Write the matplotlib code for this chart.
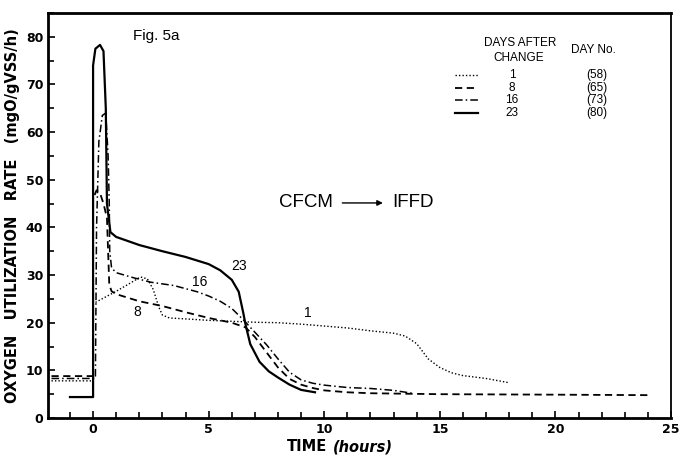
import matplotlib.pyplot as plt
from matplotlib.lines import Line2D
from matplotlib.ticker import MultipleLocator

# day 1 after change (dotted)
t1 = [-1.8, 0.0, 0.0, 0.5, 1.0, 1.5, 2.05, 2.35, 2.6, 2.85, 3.0, 3.3, 4.0, 5.0, 6.0,
      7.0, 8.0, 9.0, 10.0, 11.0, 12.0, 13.0, 13.5, 14.0, 14.5, 15.0, 15.5, 16.0, 17.0, 18.0]
r1 = [7.8, 7.8, 24.0, 25.3, 26.6, 28.0, 29.6, 29.2, 27.0, 23.2, 21.6, 21.0, 20.8, 20.5, 20.3,
      20.1, 20.0, 19.7, 19.3, 18.9, 18.3, 17.8, 17.2, 15.6, 12.4, 10.6, 9.5, 8.9, 8.3, 7.4]

# day 8 after change (dashed)
t8 = [-1.8, 0.0, 0.0, 0.15, 0.3, 0.45, 0.6, 0.65, 0.7, 0.8, 1.0, 2.0, 3.0, 4.0, 5.0,
      6.0, 6.6, 7.0, 7.5, 8.0, 8.5, 9.0, 9.5, 10.0, 11.0, 12.0, 13.5, 15.0, 20.0, 24.0]
r8 = [8.8, 8.8, 46.0, 47.8, 47.2, 45.0, 42.0, 35.0, 28.0, 26.6, 26.0, 24.5, 23.5, 22.2, 21.0,
      20.0, 19.0, 17.0, 13.8, 10.6, 8.2, 7.0, 6.3, 5.8, 5.4, 5.2, 5.1, 5.0, 4.9, 4.8]

# day 16 after change (dash-dot)
t16 = [-1.8, 0.1, 0.15, 0.25, 0.4, 0.55, 0.65, 0.7, 0.72, 0.8, 1.0, 1.7, 2.5, 3.5, 4.5,
       5.0, 5.5, 6.0, 6.5, 7.0, 7.5, 8.0, 8.5, 9.0, 9.5, 10.0, 11.0, 12.0, 13.0, 13.8]
r16 = [8.3, 8.3, 40.0, 58.0, 63.5, 64.0, 55.0, 45.0, 35.0, 31.5, 30.5, 29.5, 28.5, 27.8, 26.5,
       25.6, 24.5, 23.0, 20.6, 18.0, 15.4, 12.4, 9.6, 8.0, 7.3, 6.9, 6.4, 6.2, 5.8, 5.2]

# day 23 after change (solid)
t23 = [-1.0, 0.0, 0.0, 0.1, 0.3, 0.45, 0.55, 0.6, 0.75, 1.0, 2.0, 3.0, 4.0, 5.0, 5.5,
       6.0, 6.3, 6.5, 6.6, 6.8, 7.2, 7.6, 8.0, 8.5, 9.0, 9.6]
r23 = [4.4, 4.4, 74.0, 77.5, 78.3, 77.0, 65.0, 45.0, 39.0, 38.0, 36.3, 35.0, 33.8, 32.3, 31.0,
       29.0, 26.5, 22.0, 19.5, 15.5, 11.8, 9.8, 8.5, 7.0, 5.9, 5.4]

curve_labels = ['1', '8', '16', '23']
curve_label_x = [9.3, 1.9, 4.6, 6.3]
curve_label_y = [22.0, 22.3, 28.6, 31.8]
day_no = ['(58)', '(65)', '(73)', '(80)']

fig = plt.figure(figsize=(6.79, 4.57), dpi=100)
ax = fig.add_axes([0.0707, 0.0853, 0.9175, 0.8863])

ax.plot(t1, r1, color='black', lw=1.0, ls=(0, (1, 1.5)))
ax.plot(t8, r8, color='black', lw=1.3, ls=(0, (4, 2.5)))
ax.plot(t16, r16, color='black', lw=1.1, ls=(0, (5, 2, 1, 2)))
ax.plot(t23, r23, color='black', lw=1.6, ls='-')

for lab, lx, ly in zip(curve_labels, curve_label_x, curve_label_y):
    ax.text(lx, ly, lab, fontsize=10, family='Liberation Sans', ha='center', va='center')

ax.set_xlim(-1.95, 25)
ax.set_ylim(0, 85)
ax.xaxis.set_major_locator(MultipleLocator(5))
ax.xaxis.set_minor_locator(MultipleLocator(1))
ax.yaxis.set_major_locator(MultipleLocator(10))
ax.yaxis.set_minor_locator(MultipleLocator(5))
ax.tick_params(which='both', direction='in', labelsize=9, width=1.2)
ax.tick_params(which='major', length=5)
ax.tick_params(which='minor', length=4)
ax.set_yticks(range(0, 90, 10))
for lbl in ax.get_xticklabels() + ax.get_yticklabels():
    lbl.set_fontweight('bold')
ax.xaxis.set_major_formatter(plt.FuncFormatter(lambda v, p: f'{v:g}'))

for side in ['left', 'bottom', 'top']:
    ax.spines[side].set_linewidth(2.0)
ax.spines['right'].set_linewidth(1.3)

ax.set_ylabel('OXYGEN   UTILIZATION   RATE   (mgO/gVSS/h)', fontsize=10.5,
              fontweight='bold', family='DejaVu Sans', labelpad=4)
fig.text(0.452, 0.022, 'TIME', fontsize=10.5, fontweight='bold', family='DejaVu Sans',
         ha='center', va='center')
fig.text(0.535, 0.022, '(hours)', fontsize=10.5, fontweight='bold', style='italic',
         family='DejaVu Sans', ha='center', va='center')

ax.text(0.136, 0.943, 'Fig. 5a', transform=ax.transAxes, fontsize=11,
        family='Liberation Sans', va='center')
ax.text(0.37, 0.531, 'CFCM', transform=ax.transAxes, fontsize=13.5, family='Liberation Sans',
        va='center')
ax.annotate('', xy=(0.542, 0.531), xytext=(0.468, 0.531), xycoords='axes fraction',
            arrowprops=dict(arrowstyle='-|>', color='black', lw=1.0, mutation_scale=8))
ax.text(0.553, 0.531, 'IFFD', transform=ax.transAxes, fontsize=13.5, family='Liberation Sans',
        va='center')

# legend table
ax.text(0.758, 0.926, 'DAYS AFTER', transform=ax.transAxes, fontsize=8.5,
        family='Liberation Sans', ha='center', va='center')
ax.text(0.755, 0.889, 'CHANGE', transform=ax.transAxes, fontsize=8.5,
        family='Liberation Sans', ha='center', va='center')
ax.text(0.875, 0.909, 'DAY No.', transform=ax.transAxes, fontsize=8.5,
        family='Liberation Sans', ha='center', va='center')
legend_styles = [((0, (1, 1.5)), 1.0), ((0, (4, 2.5)), 1.3), ((0, (5, 2, 1, 2)), 1.1), ('-', 1.6)]
for i, (lab, dn, (ls, lw)) in enumerate(zip(curve_labels, day_no, legend_styles)):
    yy = 0.847 - i * 0.031
    ax.add_line(Line2D([0.653, 0.690], [yy, yy], transform=ax.transAxes, color='black',
                       ls=ls, lw=lw))
    ax.text(0.745, yy, lab, transform=ax.transAxes, fontsize=8.5, family='Liberation Sans',
            ha='center', va='center')
    ax.text(0.881, yy, dn, transform=ax.transAxes, fontsize=8.5, family='Liberation Sans',
            ha='center', va='center')

fig.savefig('out.png', dpi=100)
